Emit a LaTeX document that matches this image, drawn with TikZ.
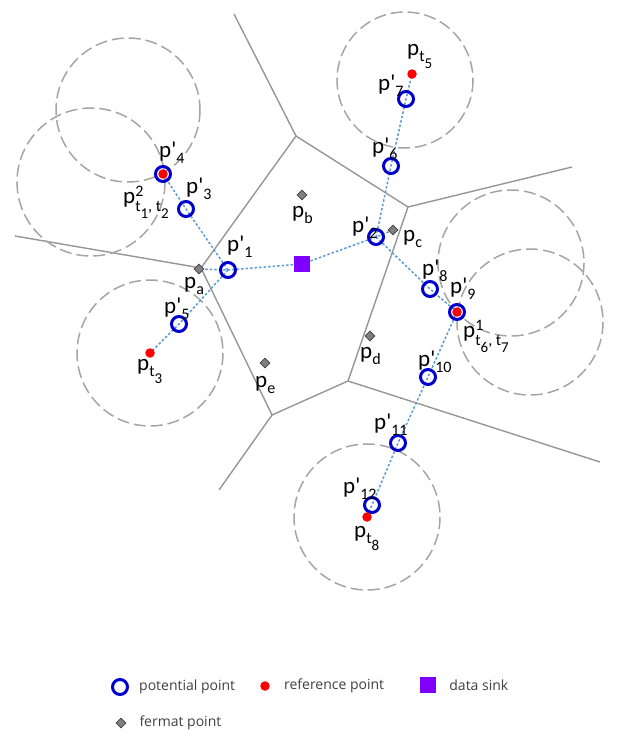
\documentclass[tikz,border=0pt]{standalone}
\usepackage{fontspec}
\setmainfont{Carlito}
\newfontfamily\legendfont{Open Sans}
\usepackage{tikz}
\usetikzlibrary{positioning,shapes.geometric,backgrounds}

\definecolor{potblue}{RGB}{0,0,204}
\definecolor{linkblue}{RGB}{91,155,213}
\definecolor{sinkviolet}{RGB}{128,0,255}
\definecolor{vorgray}{RGB}{150,150,150}
\definecolor{zonegray}{RGB}{165,165,165}
\definecolor{legtext}{RGB}{64,64,64}

% point labels
\newcommand{\lo}[1]{\raisebox{-6pt}{\fontsize{16}{16}\selectfont #1}}
\newcommand{\lolo}[1]{\raisebox{-7pt}{\fontsize{15}{15}\selectfont #1}}
\newcommand{\hi}[1]{\raisebox{7pt}{\fontsize{16}{16}\selectfont #1}}
\newcommand{\pq}[1]{p\textquotesingle\lo{#1}}
\newcommand{\pt}[1]{p\lo{t\lolo{#1}}}
\newcommand{\pf}[1]{p\lo{#1}}
\newcommand{\pshared}[3]{p\rlap{\hi{#1}}\raisebox{-2pt}{\lo{t\lolo{#2}, t\lolo{#3}}}}

\begin{document}
\begin{tikzpicture}[x=1pt,y=-1pt,
  every node/.style={font=\fontsize{23}{26}\selectfont},
  vor/.style={draw=vorgray,line width=1.4pt},
  zone/.style={draw=zonegray,line width=1.5pt,dash pattern=on 12pt off 5pt},
  link/.style={draw=linkblue,line width=1.5pt,dash pattern=on 2.5pt off 2pt},
  pot/.style={circle,draw=potblue,line width=3pt,minimum size=15pt,inner sep=0pt},
  refpt/.style={circle,fill=red,minimum size=9.5pt,inner sep=0pt},
  fermat/.style={diamond,draw=black!75,fill=black!50,line width=0.6pt,minimum size=10pt,inner sep=0pt},
  sink/.style={fill=sinkviolet,minimum size=16pt,inner sep=0pt},
  lbl/.style={anchor=base west,inner sep=0pt},
  legtxt/.style={inner sep=0pt,text=legtext,font=\legendfont\fontsize{14}{16}\selectfont}
]
\useasboundingbox (0,0) rectangle (616,736);

% Voronoi cells
\coordinate (v1) at (296,136);
\coordinate (v2) at (201,268);
\coordinate (v3) at (272,415);
\coordinate (v4) at (348,381);
\coordinate (v5) at (408,207);
\coordinate (e1) at (234,14);
\coordinate (e2) at (15,236);
\coordinate (e3) at (219,490);
\coordinate (e4) at (600,462);
\coordinate (e5) at (572,167);
\begin{scope}[on background layer]
  \draw[vor] (v1) -- (v2) -- (v3) -- (v4) -- (v5) -- cycle;
  \draw[vor] (v1) -- (e1);
  \draw[vor] (v2) -- (e2);
  \draw[vor] (v3) -- (e3);
  \draw[vor] (v4) -- (e4);
  \draw[vor] (v5) -- (e5);
  % coverage of reference points
  \draw[zone] (128,110) circle[radius=72];
  \draw[zone] (91,182) circle[radius=74];
  \draw[zone] (150,353) circle[radius=73];
  \draw[zone] (405,80) circle[radius=68];
  \draw[zone] (511,263) circle[radius=73];
  \draw[zone] (530,322) circle[radius=73];
  \draw[zone] (367,517) circle[radius=73];
\end{scope}

% fermat points and sink
\node[sink]   (sink) at (302,264) {};
\node[fermat] (fa) at (199,269) {};
\node[fermat] (fb) at (302,195) {};
\node[fermat] (fc) at (393,230) {};
\node[fermat] (fd) at (370,336) {};
\node[fermat] (fe) at (265,363) {};

% potential points
\node[pot] (q1)  at (228,270) {};
\node[pot] (q2)  at (376,237) {};
\node[pot] (q3)  at (186,209) {};
\node[pot] (q4)  at (163,174) {};
\node[pot] (q5)  at (179,324) {};
\node[pot] (q6)  at (391,166) {};
\node[pot] (q7)  at (406,99) {};
\node[pot] (q8)  at (430,289) {};
\node[pot] (q9)  at (457,312) {};
\node[pot] (q10) at (428,377) {};
\node[pot] (q11) at (398,443) {};
\node[pot] (q12) at (372,505) {};

% reference points
\node[refpt] (t12) at (163,174) {};
\node[refpt] (t3)  at (150,353) {};
\node[refpt] (t5)  at (412,74) {};
\node[refpt] (t67) at (457,312) {};
\node[refpt] (t8)  at (367,517) {};

% routes
\begin{scope}[on background layer]
  \draw[link] (sink.center) -- (q1.center) -- (fa.center);
  \draw[link] (q1.center) -- (q3.center) -- (q4.center);
  \draw[link] (q1.center) -- (q5.center) -- (t3.center);
  \draw[link] (sink.center) -- (q2.center) -- (fc.center);
  \draw[link] (q2.center) -- (q6.center) -- (q7.center) -- (t5.center);
  \draw[link] (q2.center) -- (q8.center) -- (q9.center);
  \draw[link] (q9.center) -- (q10.center) -- (q11.center) -- (q12.center) -- (t8.center);
\end{scope}

% labels
\node[lbl] at (159,157) {\pq{4}};
\node[lbl] at (123,203) {\pshared{2}{1}{2}};
\node[lbl] at (186,193) {\pq{3}};
\node[lbl] at (227,251) {\pq{1}};
\node[lbl] at (184,288) {\pf{a}};
\node[lbl] at (164,313) {\pq{5}};
\node[lbl] at (137,370) {\pt{3}};
\node[lbl] at (255,387) {\pf{e}};
\node[lbl] at (292,217) {\pf{b}};
\node[lbl] at (360,358) {\pf{d}};
\node[lbl] at (352,232) {\pq{2}};
\node[lbl] at (403,241) {\pf{c}};
\node[lbl] at (372,153) {\pq{6}};
\node[lbl] at (378,90)  {\pq{7}};
\node[lbl] at (407,55)  {\pt{5}};
\node[lbl] at (422,275) {\pq{8}};
\node[lbl] at (450,293) {\pq{9}};
\node[lbl] at (463,337) {\pshared{1}{6}{7}};
\node[lbl] at (418,366) {\pq{10}};
\node[lbl] at (374,429) {\pq{11}};
\node[lbl] at (343,493) {\pq{12}};
\node[lbl] at (354,537) {\pt{8}};

% legend
\node[pot]    (legpot)  at (120,687) {};
\node[legtxt,right=10pt of legpot] (legpottxt) {potential point};
\node[refpt]  (legref)  at (265,686) {};
\node[legtxt,right=14pt of legref] (legreftxt) {reference point};
\node[sink]   (legsink) at (428,685) {};
\node[legtxt,right=13pt of legsink] (legsinktxt) {data sink};
\node[fermat] (legfer)  at (121,723) {};
\node[legtxt,right=13pt of legfer] (legfertxt) {fermat point};
\end{tikzpicture}
\end{document}
